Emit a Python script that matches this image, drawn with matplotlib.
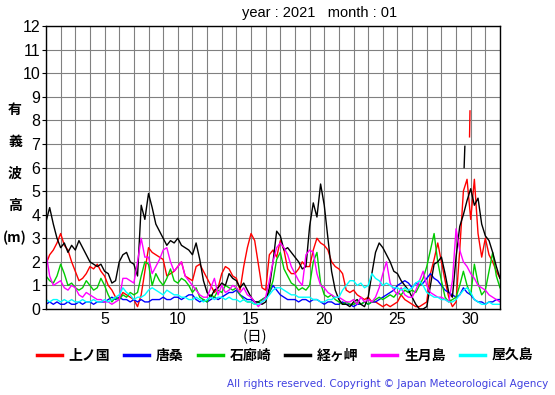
import numpy as np
import matplotlib
matplotlib.use("Agg")
import matplotlib.pyplot as plt

# ---- data (6-hourly estimates, day 1.00 .. 32.00) ----
stations = ["上ノ国", "唐桑", "石廊崎", "経ヶ岬", "生月島", "屋久島"]
colors = ["#ff0000", "#0000ff", "#00cc00", "#000000", "#ff00ff", "#00ffff"]

kaminokuni = [
    1.9, 2.3, 2.5, 2.8, 3.2, 2.7, 2.5, 2.0, 1.6, 1.2, 1.3, 1.5, 1.8, 1.7, 1.9, 1.6,
    1.4, 1.0, 0.8, 0.5, 0.4, 0.7, 0.6, 0.5, 0.4, 0.1, 0.6, 1.6, 2.6, 2.4, 2.3, 2.2,
    2.1, 1.4, 1.5, 1.6, 1.8, 2.0, 1.4, 1.3, 1.2, 1.8, 1.9, 1.6, 1.3, 1.0, 0.7, 0.9,
    1.5, 1.8, 1.7, 1.4, 1.3, 0.8, 1.8, 2.6, 3.2, 2.9, 1.9, 0.9, 0.8, 2.3, 2.5, 2.2,
    2.9, 2.5, 1.7, 1.5, 1.5, 1.7, 2.0, 1.8, 1.8, 2.5, 3.0, 2.8, 2.7, 2.5, 2.0, 1.8,
    1.7, 1.5, 0.8, 0.7, 0.8, 0.6, 0.5, 0.4, 0.5, 0.3, 0.3, 0.2, 0.1, 0.2, 0.1, 0.2,
    0.3, 0.6, 0.4, 0.3, 0.2, 0.1, 0.1, 0.2, 0.3, 1.5, 2.1, 2.8, 2.0, 1.2, 0.5, 0.1,
    0.3, 2.5, 5.0, 5.5, 3.8, 5.5, 3.2, 2.2, 3.0, 2.3, 2.0, 1.6, 1.3]
karakuwa = [
    0.2, 0.3, 0.2, 0.3, 0.2, 0.2, 0.3, 0.2, 0.2, 0.3, 0.2, 0.3, 0.3, 0.2, 0.3, 0.3,
    0.3, 0.4, 0.5, 0.4, 0.5, 0.4, 0.4, 0.3, 0.4, 0.3, 0.4, 0.3, 0.3, 0.4, 0.4, 0.4,
    0.5, 0.4, 0.4, 0.5, 0.5, 0.4, 0.5, 0.6, 0.6, 0.4, 0.3, 0.4, 0.3, 0.4, 0.5, 0.4,
    0.5, 0.6, 0.7, 0.7, 0.8, 0.6, 0.5, 0.4, 0.4, 0.3, 0.3, 0.4, 0.5, 0.7, 1.0, 0.8,
    0.6, 0.5, 0.4, 0.4, 0.4, 0.3, 0.4, 0.4, 0.3, 0.4, 0.4, 0.3, 0.2, 0.3, 0.3, 0.2,
    0.2, 0.3, 0.2, 0.2, 0.1, 0.2, 0.2, 0.3, 0.2, 0.3, 0.3, 0.4, 0.5, 0.6, 0.7, 0.8,
    1.0, 1.1, 1.2, 1.1, 0.9, 1.1, 1.0, 1.1, 1.3, 1.5, 1.3, 1.2, 1.0, 0.8, 0.7, 0.6,
    0.5, 0.6, 0.9, 0.7, 0.6, 0.4, 0.3, 0.3, 0.2, 0.3, 0.3, 0.4, 0.4]
irozaki = [
    1.4, 1.2, 1.1, 1.4, 1.9, 1.5, 1.0, 1.1, 0.9, 0.8, 0.9, 1.2, 1.0, 0.8, 0.9, 1.3,
    1.0, 0.6, 0.3, 0.5, 0.4, 0.6, 0.5, 0.7, 0.6, 0.7, 1.4, 2.0, 1.9, 1.0, 1.5, 1.2,
    1.0, 1.3, 1.7, 1.2, 1.1, 1.3, 1.2, 1.0, 0.7, 0.9, 0.5, 0.4, 0.3, 0.6, 0.5, 0.8,
    0.7, 1.0, 0.9, 0.8, 0.9, 0.6, 0.4, 0.3, 0.3, 0.2, 0.3, 0.4, 0.5, 0.7, 1.2, 2.1,
    2.4, 1.7, 1.4, 1.1, 1.0, 0.8, 0.9, 0.8, 1.0, 2.0, 2.4, 1.1, 0.6, 0.5, 0.6, 0.4,
    0.3, 0.2, 0.3, 0.2, 0.2, 0.3, 0.2, 0.3, 0.2, 0.3, 0.4, 0.5, 0.4, 0.5, 0.6, 0.5,
    0.7, 0.6, 0.8, 0.7, 0.8, 0.7, 1.0, 1.3, 1.8, 2.5, 3.2, 2.0, 1.2, 0.5, 0.3, 0.4,
    0.5, 1.0, 1.6, 1.0, 0.6, 1.9, 1.1, 0.6, 0.8, 1.6, 2.4, 1.4, 0.9]
kyogamisaki = [
    3.7, 4.3, 3.6, 3.0, 2.6, 2.8, 2.4, 2.7, 2.5, 2.9, 2.6, 2.3, 2.0, 1.9, 1.8, 1.9,
    1.6, 1.5, 1.1, 1.2, 2.0, 2.3, 2.4, 2.0, 1.9, 1.4, 4.4, 3.8, 4.9, 4.3, 3.6, 3.3,
    3.0, 2.7, 2.9, 2.8, 3.0, 2.7, 2.6, 2.5, 2.3, 2.8, 2.1, 1.2, 0.7, 0.5, 0.8, 0.9,
    1.1, 1.0, 1.5, 1.3, 1.2, 0.9, 1.1, 0.8, 0.5, 0.3, 0.3, 0.2, 0.3, 0.9, 2.0, 3.3,
    3.1, 2.5, 2.6, 2.4, 2.2, 2.0, 1.7, 1.8, 3.5, 4.5, 3.9, 5.3, 4.4, 3.0, 1.6, 0.8,
    0.4, 0.2, 0.2, 0.1, 0.3, 0.4, 0.2, 0.1, 0.5, 1.5, 2.4, 2.8, 2.6, 2.3, 2.0, 1.6,
    1.5, 1.2, 1.0, 0.8, 0.5, 0.2, 0.0, 0.0, 0.1, 1.0, 1.9, 2.0, 2.2, 1.5, 0.7, 0.5,
    2.2, 3.5, 4.0, 4.6, 5.1, 4.4, 4.7, 3.6, 3.1, 2.9, 2.4, 1.8, 1.3]
ikitsukishima = [
    2.4, 1.4, 1.0, 1.1, 1.2, 0.9, 0.8, 1.0, 0.9, 0.6, 0.5, 0.7, 0.6, 0.5, 0.4, 0.4,
    0.3, 0.3, 0.2, 0.3, 0.4, 1.3, 1.3, 1.2, 1.1, 2.0, 3.0, 2.2, 2.2, 1.5, 1.8, 2.1,
    2.5, 2.6, 2.0, 1.6, 1.8, 2.0, 1.4, 1.2, 1.0, 0.8, 0.6, 0.5, 0.5, 0.9, 1.3, 0.6,
    1.0, 0.7, 0.8, 1.0, 0.9, 0.7, 0.9, 0.6, 0.5, 0.3, 0.1, 0.3, 0.5, 1.2, 2.0, 2.6,
    2.8, 2.6, 2.3, 1.8, 1.5, 1.2, 1.0, 2.3, 2.5, 2.4, 1.5, 1.0, 0.9, 0.7, 0.6, 0.5,
    0.5, 0.4, 0.3, 0.3, 0.4, 0.2, 0.5, 0.3, 0.4, 0.3, 0.5, 0.9, 1.5, 2.0, 1.1, 0.8,
    0.6, 0.9, 0.6, 0.5, 0.5, 0.8, 1.2, 1.6, 1.0, 0.7, 0.6, 0.5, 0.5, 0.4, 0.3, 1.2,
    3.4, 2.5, 2.0, 1.8, 1.5, 1.3, 1.0, 0.9, 0.8, 0.6, 0.5, 0.4, 0.3]
yakushima = [
    0.4, 0.3, 0.4, 0.4, 0.3, 0.4, 0.3, 0.4, 0.3, 0.3, 0.4, 0.3, 0.3, 0.4, 0.3, 0.3,
    0.4, 0.3, 0.4, 0.5, 0.6, 0.9, 0.7, 0.6, 0.4, 0.5, 0.5, 0.6, 0.8, 0.9, 0.8, 0.7,
    0.6, 0.8, 0.7, 0.6, 0.6, 0.5, 0.5, 0.4, 0.4, 0.5, 0.4, 0.3, 0.4, 0.5, 0.4, 0.5,
    0.5, 0.4, 0.5, 0.4, 0.4, 0.3, 0.4, 0.3, 0.3, 0.2, 0.2, 0.3, 0.4, 0.6, 0.8, 0.9,
    0.9, 0.8, 0.7, 0.6, 0.6, 0.5, 0.5, 0.5, 0.5, 0.4, 0.4, 0.3, 0.3, 0.4, 0.4, 0.5,
    0.5, 0.8, 1.0, 1.2, 1.2, 1.0, 1.1, 0.9, 1.0, 1.5, 1.3, 1.2, 1.0, 1.1, 1.0, 0.9,
    0.9, 0.8, 0.9, 0.8, 0.9, 1.1, 1.2, 1.0, 0.7, 0.6, 0.5, 0.5, 0.4, 0.4, 0.3, 0.3,
    0.4, 0.6, 0.8, 0.9, 0.7, 0.4, 0.3, 0.2, 0.2, 0.3, 0.2, 0.2, 0.2]

# isolated short segments (separated by missing data)
kyogamisaki_spike_day = [29.55, 29.6]
kyogamisaki_spike_val = [6.0, 6.9]
kaminokuni_spike_day = [29.92, 29.95]
kaminokuni_spike_val = [7.3, 8.4]

series = [kaminokuni, karakuwa, irozaki, kyogamisaki, ikitsukishima, yakushima]

# ---- figure ----
W, H = 555, 395
fig = plt.figure(figsize=(W / 100, H / 100), dpi=100)
L, R, T, B = 46, 500, 26, 309
ax = fig.add_axes([L / W, 1 - B / H, (R - L) / W, (B - T) / H])

cjk = ["Noto Sans CJK JP", "DejaVu Sans"]
latin = ["Liberation Sans", "DejaVu Sans"]

days = 1 + np.arange(len(kaminokuni)) / 4.0
for name, col, vals in zip(stations, colors, series):
    ax.plot(days, vals, color=col, lw=1.0, label=name)
ax.plot(kyogamisaki_spike_day, kyogamisaki_spike_val, color=colors[3], lw=1.0)
ax.plot(kaminokuni_spike_day, kaminokuni_spike_val, color=colors[0], lw=1.0)

ax.set_xlim(1, 32)
ax.set_ylim(0, 12)
ax.set_xticks([5, 10, 15, 20, 25, 30])
ax.set_xticks(np.arange(1, 33), minor=True)
ax.set_yticks(np.arange(0, 13))
ax.grid(True, which="both", color="#808080", lw=0.8)
ax.set_axisbelow(True)
ax.tick_params(axis="x", which="both", length=0, pad=2, labelsize=11.5)
ax.tick_params(axis="y", length=3, pad=1, labelsize=11.5)
for lab in ax.get_xticklabels() + ax.get_yticklabels():
    lab.set_family(latin)
for s in ax.spines.values():
    s.set_color("black")
    s.set_linewidth(1.0)

fig.text(320 / W, 1 - 13 / H, "year : 2021   month : 01", ha="center", va="center",
         fontsize=10.5, family=latin)

for i, ch in enumerate(["有", "義", "波", "高", "(m)"]):
    fig.text(15 / W, 1 - (110 + 32 * i) / H, ch, ha="center", va="center",
             fontsize=10, family=cjk, fontweight="bold")

fig.text(255 / W, 1 - 337 / H, "(日)", ha="center", va="center", fontsize=10.5,
         family=cjk)

leg = fig.legend(loc="center", bbox_to_anchor=(285 / W, 1 - 356 / H), ncol=6,
                 frameon=False, handlelength=1.8, handletextpad=0.5,
                 columnspacing=1.0, prop={"family": cjk, "size": 10, "weight": "bold"})
for ln in leg.get_lines():
    ln.set_linewidth(2.5)

fig.text(548 / W, 1 - 384 / H,
         "All rights reserved. Copyright \u00a9 Japan Meteorological Agency",
         ha="right", va="center", fontsize=7.5, color="#4040e0",
         family=["DejaVu Sans"])

fig.savefig("out.png", dpi=100)
